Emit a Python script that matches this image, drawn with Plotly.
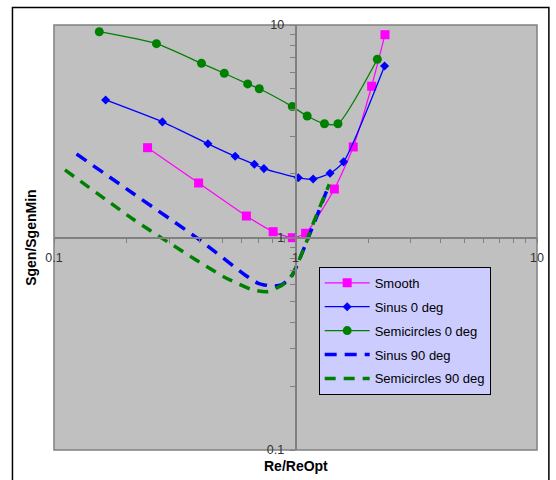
import plotly.graph_objects as go

# ---- data ----
smooth_x = [0.244, 0.397, 0.626, 0.808, 0.970, 1.101, 1.449, 1.734, 2.067, 2.347]
smooth_y = [2.646, 1.805, 1.262, 1.065, 0.998, 1.047, 1.691, 2.667, 5.15, 9.00]

sinus0_x = [0.1636, 0.2811, 0.434, 0.5627, 0.6755, 0.740, 1.027, 1.183, 1.390, 1.582, 2.338]
sinus0_y = [4.44, 3.50, 2.76, 2.41, 2.21, 2.11, 1.91, 1.885, 2.005, 2.27, 6.41]

semi0_x = [0.154, 0.2656, 0.408, 0.507, 0.634, 0.708, 0.970, 1.118, 1.318, 1.499, 2.182]
semi0_y = [9.30, 8.17, 6.60, 5.93, 5.28, 5.01, 4.13, 3.73, 3.43, 3.43, 6.90]

sinus90_x = [0.124, 0.212, 0.398, 0.618, 0.701, 0.796, 0.874, 0.961, 1.091, 1.38]
sinus90_y = [2.47, 1.615, 0.981, 0.666, 0.609, 0.591, 0.598, 0.654, 0.905, 1.78]

semi90_x = [0.111, 0.215, 0.295, 0.504, 0.669, 0.771, 0.903, 0.977, 1.091, 1.199, 1.38]
semi90_y = [2.08, 1.209, 0.955, 0.654, 0.566, 0.557, 0.609, 0.678, 0.905, 1.209, 1.78]

tick_vals = [m * d for d in [0.1, 1] for m in range(1, 10)] + [10]
tick_text = [("0.1" if v == 0.1 else "1" if v == 1 else "10" if v == 10 else "") for v in tick_vals]

FONT = "Liberation Sans, Arial, sans-serif"

fig = go.Figure()
fig.add_trace(go.Scatter(x=smooth_x, y=smooth_y, name="Smooth", mode="lines+markers",
                         line=dict(color="#FF00FF", width=1.2, shape="spline", smoothing=0.6),
                         marker=dict(symbol="square", size=9, color="#FF00FF"),
                         legendgroup="a"))
fig.add_trace(go.Scatter(x=sinus0_x, y=sinus0_y, name="Sinus 0 deg", mode="lines+markers",
                         line=dict(color="#0000FF", width=1.3, shape="spline", smoothing=0.6),
                         marker=dict(symbol="diamond", size=7, color="#0000FF"),
                         legendgroup="b"))
fig.add_trace(go.Scatter(x=semi0_x, y=semi0_y, name="Semicircles 0 deg", mode="lines+markers",
                         line=dict(color="#008000", width=1.3, shape="spline", smoothing=0.6),
                         marker=dict(symbol="circle", size=9, color="#008000"),
                         legendgroup="c"))
fig.add_trace(go.Scatter(x=sinus90_x, y=sinus90_y, name="Sinus 90 deg", mode="lines",
                         line=dict(color="#0000FF", width=3.5, dash="12px,8px", shape="spline", smoothing=0.6),
                         legendgroup="d"))
fig.add_trace(go.Scatter(x=semi90_x, y=semi90_y, name="Semicircles 90 deg", mode="lines",
                         line=dict(color="#008000", width=3.5, dash="11px,8px", shape="spline", smoothing=0.6),
                         legendgroup="e"))

axis_common = dict(type="log", range=[-1, 1], showgrid=False, zeroline=False,
                   showline=True, linecolor="#808080", linewidth=1.5,
                   ticks="outside", ticklen=5, tickcolor="#808080", tickwidth=1,
                   tickvals=tick_vals, ticktext=tick_text,
                   tickfont=dict(family=FONT, size=12.5, color="#333333"),
                   anchor="free", position=0.5)

fig.update_layout(
    width=556, height=480,
    margin=dict(l=54, r=15, t=25, b=30),
    paper_bgcolor="white", plot_bgcolor="#C0C0C0",
    font=dict(family=FONT, size=12, color="black"),
    xaxis=dict(**axis_common, ticklabelstandoff=4),
    yaxis=dict(**axis_common, ticklabelstandoff=3),
    showlegend=True,
    legend=dict(x=0.548, y=0.431, xanchor="left", yanchor="top",
                bgcolor="#CCCCFF", bordercolor="black", borderwidth=1,
                font=dict(family=FONT, size=13, color="black"),
                traceorder="grouped", tracegroupgap=4, itemwidth=45),
    shapes=[
        dict(type="rect", xref="paper", yref="paper", x0=0, x1=1, y0=0, y1=1,
             line=dict(color="#808080", width=1.5), layer="below"),
        dict(type="rect", xref="paper", yref="paper", x0=-0.086, x1=1.0246, y0=-0.12, y1=1.041,
             line=dict(color="black", width=1.5)),
    ],
    annotations=[
        dict(text="<b>Re/ReOpt</b>", xref="paper", yref="paper", x=0.5, y=-0.038,
             showarrow=False, xanchor="center", yanchor="middle",
             font=dict(family=FONT, size=14, color="black")),
        dict(text="<b>Sgen/SgenMin</b>", xref="paper", yref="paper", x=-0.049, y=0.5,
             showarrow=False, xanchor="center", yanchor="middle", textangle=-90,
             font=dict(family=FONT, size=14, color="black")),
    ],
)

fig.write_html("out.html")
